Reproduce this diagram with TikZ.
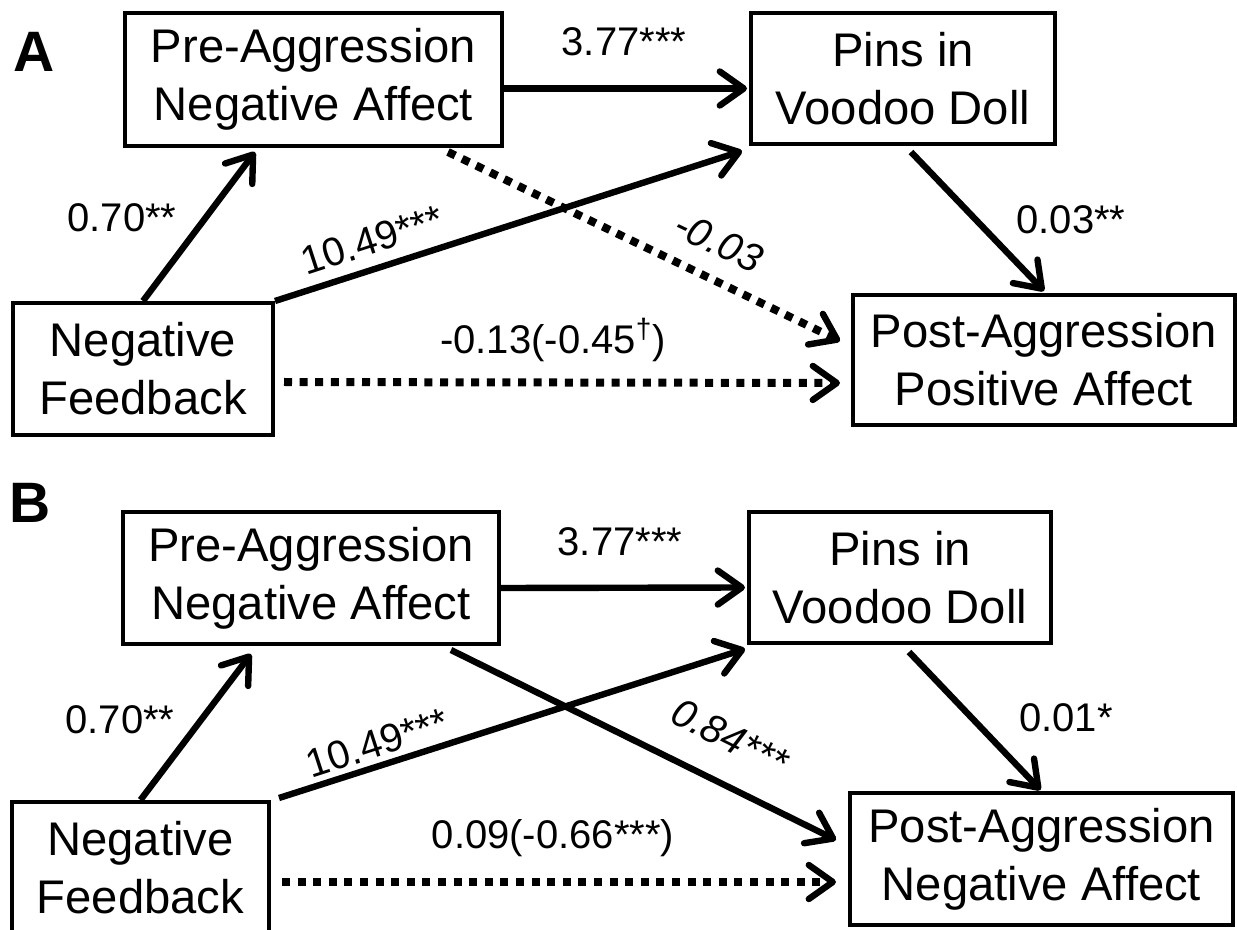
\documentclass[tikz,border=0pt]{standalone}
\usepackage{fontspec}
\setmainfont{Liberation Sans}
\usetikzlibrary{arrows.meta,calc}
\begin{document}
\begin{tikzpicture}[x=0.5pt,y=-0.5pt,
  box/.style={draw, line width=2pt, inner sep=0pt, align=center,
    font=\fontsize{23.6}{29}\selectfont},
  lbl/.style={inner sep=0pt, font=\fontsize{20}{24}\selectfont},
  panel/.style={inner sep=0pt, font=\fontsize{28.5}{32}\selectfont\bfseries},
  path/.style={line width=3.2pt, -{Straight Barb[length=12pt,width=17pt,round]}},
  dotpath/.style={line width=4pt, dash pattern=on 4pt off 3.8pt,
    -{Straight Barb[length=12pt,width=17pt,round,line width=3.2pt]}}
]
\clip (0,0) rectangle (1237,930);
% Panel A
\node[panel] (la) at (34,52) {A};
\node[box, minimum width=188.5pt, minimum height=66.5pt] (preA) at (313.5,79.5) {Pre-Aggression\\Negative Affect};
\node[box, minimum width=152pt, minimum height=65.5pt] (pinsA) at (903,78.5) {Pins in\\Voodoo Doll};
\node[box, minimum width=130pt, minimum height=66pt] (nfA) at (143,369) {Negative\\Feedback};
\node[box, minimum width=191pt, minimum height=65pt] (postA) at (1044,360) {Post-Aggression\\Positive Affect};

\draw[path] (nfA.north) -- ($(preA.south west)+(132,4)$);
\draw[path] (nfA.north east) -- ($(pinsA.south west)+(-7,5)$);
\draw[path] ($(preA.east)+(0,9)$) -- ($(pinsA.west)+(-2,10)$);
\draw[dotpath] ($(preA.south west)+(325,4)$) -- ($(postA.west)+(-11,-19)$);
\draw[path] ($(pinsA.south west)+(162,6)$) -- ($(postA.north)+(0,-2)$);
\draw[dotpath] ($(nfA.east)+(9,13)$) -- ($(postA.west)+(-11,23)$);

\node[lbl] (a1) at (122,218) {0.70**};
\node[lbl, rotate=18] (a2) at (372,240) {10.49***};
\node[lbl] (a3) at (624,42) {3.77***};
\node[lbl, rotate=-25.5] (a4) at (719,242) {\itshape -0.03};
\node[lbl] (a5) at (1071,220) {0.03**};
\node[lbl] (a6) at (553,340) {-0.13(-0.45\textsuperscript{†})};

% Panel B
\node[panel] (lb) at (30,503) {B};
\node[box, minimum width=188pt, minimum height=66pt] (preB) at (311,578) {Pre-Aggression\\Negative Affect};
\node[box, minimum width=151pt, minimum height=65.5pt] (pinsB) at (900,577.5) {Pins in\\Voodoo Doll};
\node[box, minimum width=128.5pt, minimum height=66pt] (nfB) at (140.5,868) {Negative\\Feedback};
\node[box, minimum width=191.5pt, minimum height=66pt] (postB) at (1041.5,859) {Post-Aggression\\Negative Affect};

\draw[path] (nfB.north) -- ($(preB.south west)+(130,8)$);
\draw[path] ($(nfB.north east)+(8,-2)$) -- ($(pinsB.south west)+(-2,4)$);
\draw[path] ($(preB.east)+(0,10)$) -- ($(pinsB.west)+(-2,10)$);
\draw[path] ($(preB.south west)+(330,4)$) -- ($(postB.west)+(-12,-19)$);
\draw[path] ($(pinsB.south west)+(162,7)$) -- ($(postB.north)+(-1,-1)$);
\draw[dotpath] ($(nfB.east)+(11,14)$) -- ($(postB.west)+(-12,23)$);

\node[lbl] (b1) at (120,720) {0.70**};
\node[lbl, rotate=18] (b2) at (377,743) {10.49***};
\node[lbl] (b3) at (620,542) {3.77***};
\node[lbl, rotate=-26.5] (b4) at (730,737) {\itshape 0.84***};
\node[lbl] (b5) at (1066,718) {0.01*};
\node[lbl] (b6) at (553,838) {0.09(-0.66***)};
\end{tikzpicture}
\end{document}
